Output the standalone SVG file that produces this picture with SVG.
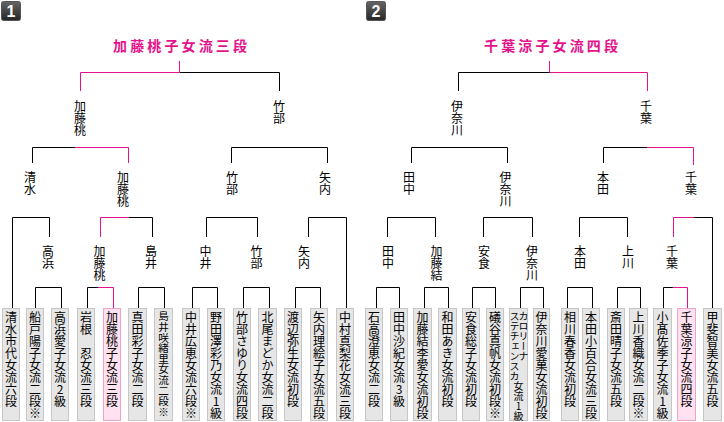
<svg xmlns="http://www.w3.org/2000/svg" width="724" height="422" viewBox="0 0 724 422">
<defs>
<linearGradient id="bg" x1="0" y1="0" x2="0" y2="1">
<stop offset="0" stop-color="#666"/>
<stop offset="1" stop-color="#262626"/>
</linearGradient>
</defs>
<style>
.ln{fill:none;stroke:#000;stroke-width:1}
.pk{fill:none;stroke:#e4138c;stroke-width:1}
.box{fill:#e6e6e6;stroke:#c6c6c6;stroke-width:1}
.win{fill:#ffe1ef;stroke:#f0a2c8;stroke-width:1}
.v{font-family:"Noto Sans CJK JP","Noto Sans CJK SC",sans-serif;font-size:12px;writing-mode:vertical-rl;text-orientation:upright;fill:#000}
.s{font-size:10px}
.c{font-size:10.6px}
.ttl{font-family:"Noto Sans CJK JP","Noto Sans CJK SC",sans-serif;font-size:14px;font-weight:bold;fill:#e4138c}
.badge{fill:url(#bg);stroke:#555;stroke-width:1}
.num{font-family:"Liberation Sans",sans-serif;font-size:16px;font-weight:bold;fill:#fff;text-anchor:middle}
</style>
<rect width="724" height="422" fill="#fff"/>

<g id="badge1"><rect class="badge" x="1.5" y="1.5" width="19" height="19" rx="2"/><text class="num" x="11" y="17">1</text></g>
<g id="badge2"><rect class="badge" x="366.5" y="1.5" width="19" height="19" rx="2"/><text class="num" x="376" y="17">2</text></g>

<g id="connectors">
<path class="ln" d="M179.5,72.5H279.5V91"/>
<path class="pk" d="M179.5,61V72.5H80.5V91"/>
<path class="ln" d="M32.5,163V147.5H75"/>
<path class="pk" d="M75,147.5H128.5V163"/>
<path class="ln" d="M231.5,163V147.5H327.5V163"/>
<path class="ln" d="M12.5,308V217.5H49.5V237"/>
<path class="pk" d="M100.5,237V217.5H129"/>
<path class="ln" d="M129,217.5H152.5V237"/>
<path class="ln" d="M206.5,237V217.5H257.5V237"/>
<path class="ln" d="M308.5,237V217.5H346.5V308"/>
<path class="ln" d="M35.5,308V287.5H61.5V308"/>
<path class="ln" d="M87.5,308V287.5H98"/>
<path class="pk" d="M98,287.5H113.5V308"/>
<path class="ln" d="M138.5,308V287.5H164.5V308"/>
<path class="ln" d="M192.5,308V287.5H217.5V308"/>
<path class="ln" d="M243.5,308V287.5H269.5V308"/>
<path class="ln" d="M295.5,308V287.5H320.5V308"/>

<path class="pk" d="M549.5,61V72.5H647.5V91"/>
<path class="ln" d="M549.5,72.5H458.5V91"/>
<path class="ln" d="M411.5,163V147.5H507.5V163"/>
<path class="ln" d="M603.5,163V147.5H647"/>
<path class="pk" d="M647,147.5H693.5V165"/>
<path class="ln" d="M387.5,237V217.5H435.5V237"/>
<path class="ln" d="M483.5,237V217.5H532.5V237"/>
<path class="ln" d="M579.5,237V217.5H627.5V237"/>
<path class="pk" d="M673.5,237V217.5H694"/>
<path class="ln" d="M694,217.5H712.5V308"/>
<path class="ln" d="M376.5,308V287.5H399.5V308"/>
<path class="ln" d="M424.5,308V287.5H448.5V308"/>
<path class="ln" d="M472.5,308V287.5H495.5V308"/>
<path class="ln" d="M520.5,308V287.5H543.5V308"/>
<path class="ln" d="M567.5,308V287.5H592.5V308"/>
<path class="ln" d="M617.5,308V287.5H640.5V308"/>
<path class="ln" d="M663.5,308V287.5H673"/>
<path class="pk" d="M673,287.5H687.5V308"/>
</g>

<g id="title1"><text class="ttl" x="113" y="51" textLength="134" lengthAdjust="spacing">加藤桃子女流三段</text></g>
<g id="title2"><text class="ttl" x="484" y="51" textLength="134" lengthAdjust="spacing">千葉涼子女流四段</text></g>

<g id="labels1">
<text class="v" x="80" y="100">加藤桃</text>
<text class="v" x="279" y="100">竹部</text>
<text class="v" x="30" y="171">清水</text>
<text class="v" x="123" y="171">加藤桃</text>
<text class="v" x="232" y="171">竹部</text>
<text class="v" x="325" y="171">矢内</text>
<text class="v" x="48" y="245">高浜</text>
<text class="v" x="99.5" y="245">加藤桃</text>
<text class="v" x="151" y="245">島井</text>
<text class="v" x="205.5" y="245">中井</text>
<text class="v" x="256.5" y="245">竹部</text>
<text class="v" x="304" y="245">矢内</text>
</g>
<g id="labels2">
<text class="v" x="457" y="100">伊奈川</text>
<text class="v" x="646" y="100">千葉</text>
<text class="v" x="409" y="171">田中</text>
<text class="v" x="505.5" y="171">伊奈川</text>
<text class="v" x="603" y="171">本田</text>
<text class="v" x="691" y="171">千葉</text>
<text class="v" x="388" y="245">田中</text>
<text class="v" x="436.5" y="245">加藤結</text>
<text class="v" x="484" y="245">安食</text>
<text class="v" x="532" y="245">伊奈川</text>
<text class="v" x="580" y="245">本田</text>
<text class="v" x="628" y="245">上川</text>
<text class="v" x="672" y="245">千葉</text>
</g>

<g id="p-shimizu"><rect class="box" x="2.5" y="308.5" width="17" height="112"/><text class="v" x="11" y="311">清水市代女流六段</text></g>
<g id="p-funato"><rect class="box" x="26.5" y="308.5" width="17" height="112"/><text class="v" x="35" y="311">船戸陽子女流二段※</text></g>
<g id="p-takahama"><rect class="box" x="51.5" y="308.5" width="17" height="112"/><text class="v" x="60" y="311">高浜愛子女流2級</text></g>
<g id="p-iwane"><rect class="box" x="77.5" y="308.5" width="17" height="112"/><text class="v" x="86" y="311">岩根　忍女流三段</text></g>
<g id="p-kato-momoko"><rect class="win" x="103.5" y="308.5" width="17" height="112"/><text class="v" x="112" y="311">加藤桃子女流三段</text></g>
<g id="p-sanada"><rect class="box" x="128.5" y="308.5" width="18" height="112"/><text class="v" x="137.5" y="311">真田彩子女流二段</text></g>
<g id="p-shimai"><rect class="box" x="154.5" y="308.5" width="18" height="112"/><text class="v c" x="163.5" y="311">島井咲緒里女流二段※</text></g>
<g id="p-nakai"><rect class="box" x="182.5" y="308.5" width="17" height="112"/><text class="v" x="191" y="311">中井広恵女流六段※</text></g>
<g id="p-nodazawa"><rect class="box" x="207.5" y="308.5" width="17" height="112"/><text class="v" x="216" y="311">野田澤彩乃女流1級</text></g>
<g id="p-takebe"><rect class="box" x="233.5" y="308.5" width="17" height="112"/><text class="v" x="242" y="311">竹部さゆり女流四段</text></g>
<g id="p-kitao"><rect class="box" x="258.5" y="308.5" width="18" height="112"/><text class="v" x="267.5" y="311">北尾まどか女流二段</text></g>
<g id="p-watanabe"><rect class="box" x="284.5" y="308.5" width="17" height="112"/><text class="v" x="293" y="311">渡辺弥生女流初段</text></g>
<g id="p-yauchi"><rect class="box" x="310.5" y="308.5" width="17" height="112"/><text class="v" x="319" y="311">矢内理絵子女流五段</text></g>
<g id="p-nakamura"><rect class="box" x="336.5" y="308.5" width="17" height="112"/><text class="v" x="345" y="311">中村真梨花女流三段</text></g>

<g id="p-ishitaka"><rect class="box" x="365.5" y="308.5" width="17" height="112"/><text class="v" x="374" y="311">石高澄恵女流二段</text></g>
<g id="p-tanaka"><rect class="box" x="390.5" y="308.5" width="17" height="112"/><text class="v" x="399" y="311">田中沙紀女流3級</text></g>
<g id="p-kato-yuria"><rect class="box" x="413.5" y="308.5" width="18" height="112"/><text class="v" x="422.5" y="311">加藤結李愛女流初段</text></g>
<g id="p-wada"><rect class="box" x="438.5" y="308.5" width="18" height="112"/><text class="v" x="447.5" y="311">和田あき女流初段</text></g>
<g id="p-ajiki"><rect class="box" x="462.5" y="308.5" width="17" height="112"/><text class="v" x="471" y="311">安食総子女流初段</text></g>
<g id="p-isotani"><rect class="box" x="486.5" y="308.5" width="17" height="112"/><text class="v" x="495" y="311">礒谷真帆女流初段※</text></g>
<g id="p-karolina"><rect class="box" x="509.5" y="308.5" width="18" height="112"/><text class="v s" x="523.5" y="311">カロリーナ</text><text class="v s" x="514.5" y="311">ステチェンスカ</text><text class="v s" x="518.5" y="381">女流1級</text></g>
<g id="p-inagawa"><rect class="box" x="533.5" y="308.5" width="16" height="112"/><text class="v" x="541.5" y="311">伊奈川愛菓女流初段</text></g>
<g id="p-aikawa"><rect class="box" x="561.5" y="308.5" width="17" height="112"/><text class="v" x="570" y="311">相川春香女流初段</text></g>
<g id="p-honda"><rect class="box" x="582.5" y="308.5" width="17" height="112"/><text class="v" x="591" y="311">本田小百合女流三段</text></g>
<g id="p-saida"><rect class="box" x="607.5" y="308.5" width="17" height="112"/><text class="v" x="616" y="311">斎田晴子女流五段</text></g>
<g id="p-kamikawa"><rect class="box" x="629.5" y="308.5" width="18" height="112"/><text class="v" x="638.5" y="311">上川香織女流二段※</text></g>
<g id="p-kodaka"><rect class="box" x="653.5" y="308.5" width="18" height="112"/><text class="v" x="662.5" y="311">小髙佐季子女流1級</text></g>
<g id="p-chiba"><rect class="win" x="677.5" y="308.5" width="18" height="112"/><text class="v" x="686.5" y="311">千葉涼子女流四段</text></g>
<g id="p-kai"><rect class="box" x="703.5" y="308.5" width="18" height="112"/><text class="v" x="712.5" y="311">甲斐智美女流五段</text></g>
</svg>
